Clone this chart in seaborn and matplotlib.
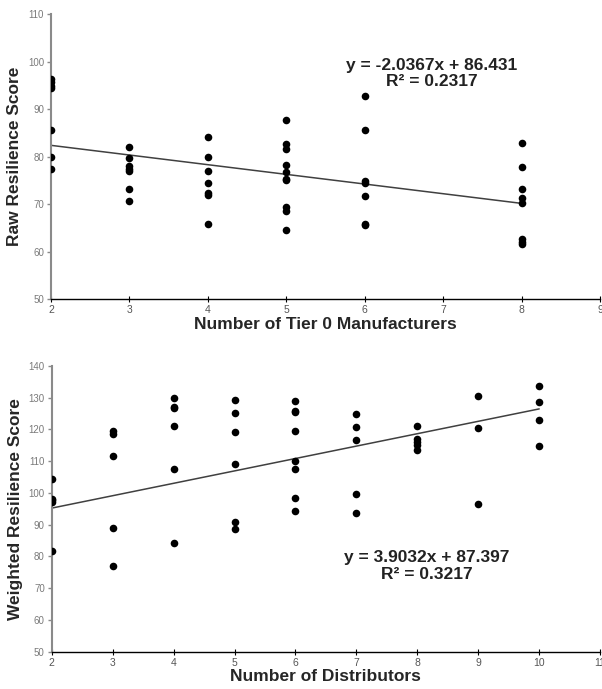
import numpy as np
import pandas as pd
import seaborn as sns
import matplotlib
matplotlib.use("Agg")
import matplotlib.pyplot as plt

# raw resilience vs tier 0 manufacturers
tier0_x = [2, 2, 2, 2, 2, 2, 2,
           3, 3, 3, 3, 3, 3, 3,
           4, 4, 4, 4, 4, 4, 4,
           5, 5, 5, 5, 5, 5, 5, 5, 5, 5,
           6, 6, 6, 6, 6, 6, 6,
           8, 8, 8, 8, 8, 8, 8, 8]
raw_score = [96.4, 95.6, 94.9, 94.4, 85.5, 79.9, 77.3,
             82.0, 79.6, 78.0, 77.4, 77.0, 73.2, 70.6,
             84.2, 80.0, 76.9, 74.4, 72.3, 72.0, 65.7,
             87.7, 82.7, 81.6, 78.3, 76.8, 75.3, 75.0, 69.3, 68.6, 64.5,
             92.8, 85.6, 74.9, 74.4, 71.7, 65.9, 65.6,
             82.8, 77.7, 73.1, 71.3, 70.2, 62.6, 62.1, 61.6]
raw_trend = (-2.0367, 86.431)
raw_r2 = 0.2317

# weighted resilience vs distributors
dist_x = [2, 2, 2, 2, 2,
          3, 3, 3, 3, 3,
          4, 4, 4, 4, 4, 4,
          5, 5, 5, 5, 5, 5,
          6, 6, 6, 6, 6, 6, 6, 6,
          7, 7, 7, 7, 7,
          8, 8, 8, 8, 8,
          9, 9, 9,
          10, 10, 10, 10]
weighted_score = [104.3, 98.1, 97.6, 97.0, 81.7,
                  119.4, 118.6, 111.5, 89.1, 76.9,
                  129.9, 127.1, 126.6, 120.9, 107.6, 84.1,
                  129.3, 125.1, 119.1, 109.1, 90.8, 88.7,
                  129.0, 125.9, 125.5, 119.4, 110.0, 107.6, 98.4, 94.2,
                  124.9, 120.6, 116.5, 99.5, 93.8,
                  121.2, 116.8, 116.0, 115.2, 113.6,
                  130.5, 120.3, 96.6,
                  133.5, 128.6, 123.0, 114.7]
w_trend = (3.9032, 87.397)
w_r2 = 0.3217

sns.set_style("white")
plt.rcParams['font.family'] = ['Liberation Sans', 'DejaVu Sans']

fig = plt.figure(figsize=(6.02, 6.89), dpi=100)
ax1 = fig.add_axes([0.0847, 0.566, 0.912, 0.4136])
ax2 = fig.add_axes([0.0859, 0.0541, 0.911, 0.415])


def draw_panel(ax, x, y, trend, r2, xlim, ylim, ystep, xlabel, ylabel, txt_xy):
    df = pd.DataFrame({'x': x, 'y': y})
    sns.scatterplot(data=df, x='x', y='y', color='black', s=30,
                    edgecolor='black', linewidth=0, ax=ax, zorder=3)
    line = pd.DataFrame({'x': [min(x), max(x)]})
    line['y'] = trend[0] * line['x'] + trend[1]
    sns.lineplot(data=line, x='x', y='y', color='#404040', linewidth=1.1, ax=ax, zorder=2)

    ax.set_xlim(*xlim)
    ax.set_ylim(*ylim)
    ax.set_xticks(range(xlim[0], xlim[1] + 1))
    ax.set_yticks(range(ylim[0], ylim[1] + 1, ystep))
    for s in ['top', 'right']:
        ax.spines[s].set_visible(False)
    ax.spines['left'].set_color('#8a8a8a')
    ax.spines['left'].set_linewidth(1.5)
    ax.spines['bottom'].set_color('black')
    ax.spines['bottom'].set_linewidth(1.0)
    ax.tick_params(axis='y', direction='out', length=3, width=1, color='#8a8a8a',
                   labelsize=7, labelcolor='#7a7a7a', pad=2, left=True)
    ax.tick_params(axis='x', direction='inout', length=5, width=0.8, color='black',
                   labelsize=7.5, labelcolor='#555555', pad=2, bottom=True)
    ax.set_xlabel(xlabel, fontsize=12.5, fontweight='bold', labelpad=1)
    ax.set_ylabel(ylabel, fontsize=12.5, fontweight='bold', labelpad=4)

    sign = '-' if trend[0] < 0 else ''
    eq = f"y = {sign}{abs(trend[0]):.4f}x + {trend[1]:.3f}\nR² = {r2:.4f}"
    ax.text(txt_xy[0], txt_xy[1], eq, ha='center', va='center', fontsize=12.5,
            fontweight='bold', color='#222222', linespacing=1.15, multialignment='center')


draw_panel(ax1, tier0_x, raw_score, raw_trend, raw_r2, (2, 9), (50, 110), 10,
           'Number of Tier 0 Manufacturers', 'Raw Resilience Score', (6.85, 97.5))
draw_panel(ax2, dist_x, weighted_score, w_trend, w_r2, (2, 11), (50, 140), 10,
           'Number of Distributors', 'Weighted Resilience Score', (8.15, 76.9))

fig.savefig('out.png', dpi=100)
